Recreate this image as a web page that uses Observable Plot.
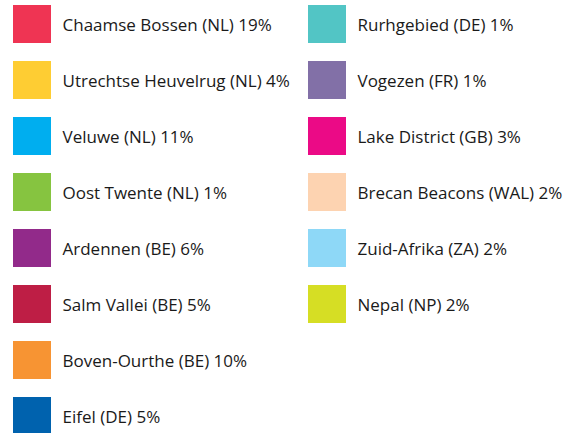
<!DOCTYPE html>
<html>
<head>
<meta charset="utf-8">
<script src="https://cdn.jsdelivr.net/npm/d3@7"></script>
<script src="https://cdn.jsdelivr.net/npm/@observablehq/plot@0.6"></script>
<style>
  html, body { margin: 0; padding: 0; background: #fff; }
</style>
</head>
<body>
<div id="chart"></div>
<script>
const regions = [
  "Chaamse Bossen (NL)", "Utrechtse Heuvelrug (NL)", "Veluwe (NL)", "Oost Twente (NL)",
  "Ardennen (BE)", "Salm Vallei (BE)", "Boven-Ourthe (BE)", "Eifel (DE)",
  "Rurhgebied (DE)", "Vogezen (FR)", "Lake District (GB)", "Brecan Beacons (WAL)",
  "Zuid-Afrika (ZA)", "Nepal (NP)"
];
const shares = [19, 4, 11, 1, 6, 5, 10, 5, 1, 1, 3, 2, 2, 2];
const colors = [
  "#ef3453", "#fecd33", "#00aeef", "#86c440", "#922a8a", "#be1e45", "#f79433", "#0062ae",
  "#52c5c5", "#8270a7", "#eb0a86", "#fdd3b1", "#8ed8f7", "#d6de24"
];

const rowsPerCol = 8;
const data = regions.map((name, i) => ({
  name,
  share: shares[i],
  color: colors[i],
  col: Math.floor(i / rowsPerCol),
  row: i % rowsPerCol,
  label: `${name} ${shares[i]}%`
}));

const chart = Plot.plot({
  width: 572,
  height: 433,
  margin: 0,
  style: { fontFamily: "'Open Sans', sans-serif", background: "#fff" },
  x: { type: "band", domain: [0, 1], range: [12, 346], paddingInner: 38 / 296 === 0 ? 0 : 1 - 38 / 296, paddingOuter: 0, axis: null },
  y: { type: "band", domain: d3.range(rowsPerCol), range: [5, 435], paddingInner: 1 - 38 / 56, paddingOuter: 0, axis: null },
  marks: [
    Plot.cell(data, { x: "col", y: "row", fill: "color" }),
    Plot.text(data, {
      x: "col", y: "row", text: "label", textAnchor: "start",
      dx: 30, dy: 1, fontSize: 17, fill: "#1a1a1a"
    })
  ]
});
document.getElementById("chart").append(chart);
</script>
</body>
</html>
